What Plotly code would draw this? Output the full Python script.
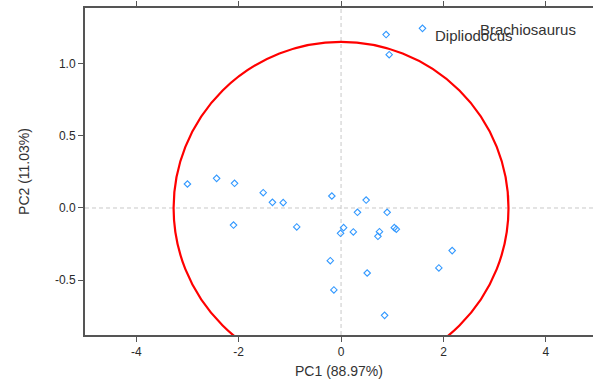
import plotly.graph_objects as go

# PCA scores (PC1, PC2)
pc1 = [-3.00, -2.43, -2.08, -1.52, -1.34, -1.13, -2.10, -0.865,
       -0.18, 0.49, 0.32, 0.90, 0.05, -0.01, 0.24, 0.75, 0.72, 1.04, 1.08,
       2.17, 1.91, -0.21, 0.51, -0.14, 0.85, 1.59, 0.88, 0.94]
pc2 = [0.166, 0.205, 0.171, 0.106, 0.039, 0.037, -0.118, -0.131,
       0.083, 0.055, -0.030, -0.030, -0.136, -0.175, -0.166, -0.164, -0.196, -0.136, -0.147,
       -0.295, -0.415, -0.365, -0.450, -0.567, -0.743, 1.243, 1.200, 1.061]

label_text = ["Brachiosaurus", "Dipliodocus"]
label_x = [2.68, 1.79]
label_y = [1.238, 1.195]

# confidence ellipse (centre and semi-axes)
ell_cx, ell_cy = 0.0, 0.0
ell_a, ell_b = 3.27, 1.15

x_ticks = [-4, -2, 0, 2, 4]
x_tick_text = ["-4", "-2", "0", "2", "4"]
y_ticks = [-0.5, 0.0, 0.5, 1.0]
y_tick_text = ["-0.5", "0.0", "0.5", "1.0"]

fig = go.Figure()
fig.add_trace(go.Scatter(
    x=pc1, y=pc2, mode="markers",
    marker=dict(symbol="diamond-open", size=5, color="#3399FF", line=dict(width=1.1)),
    showlegend=False, hoverinfo="skip"))

fig.add_shape(type="circle", xref="x", yref="y",
              x0=ell_cx - ell_a, x1=ell_cx + ell_a, y0=ell_cy - ell_b, y1=ell_cy + ell_b,
              line=dict(color="#FF0000", width=2.2), layer="above")
fig.add_shape(type="line", xref="x", yref="paper", x0=0, x1=0, y0=0, y1=1,
              line=dict(color="#C8C8C8", width=1, dash="4px,3px"), layer="below")
fig.add_shape(type="line", xref="paper", yref="y", x0=0, x1=1, y0=0, y1=0,
              line=dict(color="#C8C8C8", width=1, dash="4px,3px"), layer="below")

for t, lx, ly in zip(label_text, label_x, label_y):
    fig.add_annotation(x=lx, y=ly, text=t, showarrow=False, xanchor="left", yanchor="middle",
                       font=dict(family="Liberation Sans, Arial", size=15, color="#333333"))

fig.update_layout(
    width=593, height=380,
    margin=dict(l=85, r=0, t=8, b=45),
    plot_bgcolor="white", paper_bgcolor="white",
    font=dict(family="Liberation Sans, Arial", color="#333333"),
    xaxis=dict(range=[-5, 4.92], tickvals=x_ticks, ticktext=x_tick_text, showgrid=False, zeroline=False,
               showline=True, linecolor="#555555", linewidth=1.5, mirror="ticks",
               ticks="outside", ticklen=5, tickcolor="#555555",
               tickfont=dict(size=12, color="#2a2a2a"),
               title=dict(text="PC1 (88.97%)", font=dict(size=14, color="#333333"), standoff=8)),
    yaxis=dict(range=[-0.879, 1.384], tickvals=y_ticks, ticktext=y_tick_text, showgrid=False,
               zeroline=False, showline=True, linecolor="#555555", linewidth=2,
               ticks="outside", ticklen=5, tickcolor="#555555",
               tickfont=dict(size=12, color="#2a2a2a"),
               title=dict(text="PC2 (11.03%)", font=dict(size=14, color="#333333"), standoff=22)),
)

fig.write_html("out.html")
